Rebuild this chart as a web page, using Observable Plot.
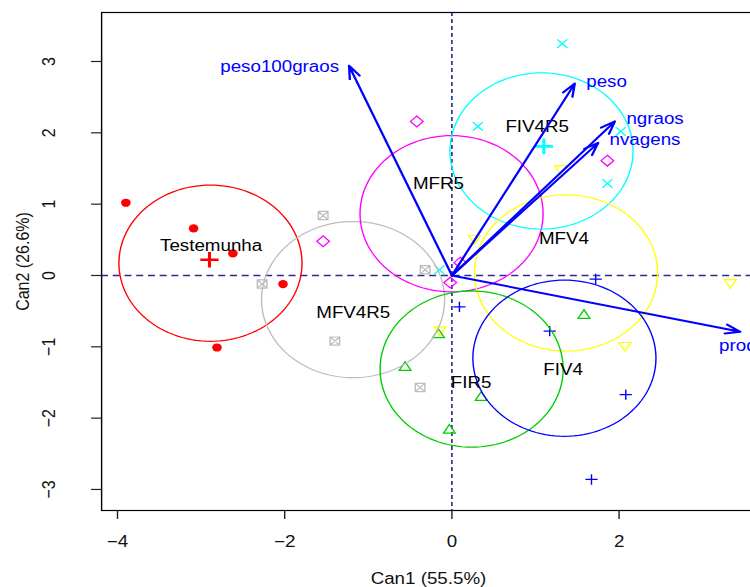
<!DOCTYPE html>
<html>
<head>
<meta charset="utf-8">
<script src="https://cdn.jsdelivr.net/npm/d3@7"></script>
<script src="https://cdn.jsdelivr.net/npm/@observablehq/plot@0.6"></script>
<style>
  html, body { margin: 0; padding: 0; overflow: hidden; background: #fff; }
  #wrap { width: 750px; height: 587px; overflow: hidden; position: relative; background: #fff; }
  #wrap svg { display: block; max-width: none; transform: scaleX(1.172); transform-origin: 0 0; }
</style>
</head>
<body>
<div id="wrap"></div>
<script>
// ---- data ----
const groups = ["Testemunha", "MFV4R5", "MFR5", "FIV4R5", "MFV4", "FIR5", "FIV4"];
const groupColors = ["#FF0000", "#BEBEBE", "#FF00FF", "#00FFFF", "#FFFF00", "#00CD00", "#0000FF"];

// canonical scores per group (Can1, Can2)
const scoreCan1 = [
  [-3.90, -3.09, -2.62, -2.02, -2.81],   // Testemunha
  [-1.54, -2.27, -1.40, -0.38, -0.32],   // MFV4R5
  [-0.42, -1.54, -0.02, 1.86, 0.10],     // MFR5
  [1.32, 0.31, 2.02, 1.86, -0.15],       // FIV4R5
  [1.30, 0.27, -0.14, 2.07, 3.33],       // MFV4
  [-0.56, -0.16, 0.35, -0.03, 1.58],     // FIR5
  [1.72, 0.09, 1.17, 2.08, 1.67]         // FIV4
];
const scoreCan2 = [
  [1.02, 0.66, 0.31, -0.12, -1.01],
  [0.84, -0.12, -0.92, -1.57, 0.08],
  [2.16, 0.48, -0.10, 1.61, 0.18],
  [3.25, 2.09, 2.02, 1.29, 0.08],
  [1.50, 0.52, -0.76, -0.98, -0.10],
  [-1.29, -0.83, -1.71, -2.17, -0.56],
  [-0.05, -0.44, -0.78, -1.67, -2.86]
];

// group label positions
const labelCan1 = [-2.88, -1.18, -0.16, 1.02, 1.34, 0.23, 1.33];
const labelCan2 = [0.42, -0.53, 1.29, 2.09, 0.51, -1.51, -1.33];

// centroid crosses shown in the reference
const crossGroups = ["Testemunha", "FIV4R5"];
const crossCan1 = [-2.90, 1.10];
const crossCan2 = [0.22, 1.81];

const circleRadius = 1.095;

// structure vectors
const varNames = ["peso100graos", "peso", "ngraos", "nvagens", "prod"];
const varCan1 = [-1.23, 1.47, 1.95, 1.75, 3.45];
const varCan2 = [2.94, 2.69, 2.16, 1.86, -0.79];
const varLabelCan1 = [-2.06, 1.85, 2.43, 2.31, 3.42];
const varLabelCan2 = [2.93, 2.72, 2.20, 1.90, -0.98];

const xTicks = [-4, -2, 0, 2];
const yTicks = [-3, -2, -1, 0, 1, 2, 3];
const xTitle = "Can1 (55.5%)";
const yTitle = "Can2 (26.6%)";

// ---- symbols (R pch look-alikes) ----
const sym = (fn) => ({ draw(c, size) { fn(c, Math.sqrt(size / Math.PI)); } });
const triUp = sym((c, r) => { c.moveTo(0, -r * 1.15); c.lineTo(r, r * 0.58); c.lineTo(-r, r * 0.58); c.closePath(); });
const triDown = sym((c, r) => { c.moveTo(0, r * 1.15); c.lineTo(r, -r * 0.58); c.lineTo(-r, -r * 0.58); c.closePath(); });
const plus = sym((c, r) => { c.moveTo(-r, 0); c.lineTo(r, 0); c.moveTo(0, -r); c.lineTo(0, r); });
const times = sym((c, r) => { c.moveTo(-r, -r); c.lineTo(r, r); c.moveTo(-r, r); c.lineTo(r, -r); });
const diamond = sym((c, r) => { c.moveTo(0, -r); c.lineTo(r, 0); c.lineTo(0, r); c.lineTo(-r, 0); c.closePath(); });
const boxX = sym((c, r) => { c.rect(-r, -r, 2 * r, 2 * r); c.moveTo(-r, -r); c.lineTo(r, r); c.moveTo(-r, r); c.lineTo(r, -r); });

const groupStyle = [
  { symbol: "circle", r: 4.1, fill: true },
  { symbol: boxX, r: 4.1 },
  { symbol: diamond, r: 5.4 },
  { symbol: times, r: 4.3 },
  { symbol: triDown, r: 5 },
  { symbol: triUp, r: 5 },
  { symbol: plus, r: 5.2 }
];

const circlePts = (cx, cy) => d3.range(0, 361, 3).map(a => ({
  x: cx + circleRadius * Math.cos(a * Math.PI / 180),
  y: cy + circleRadius * Math.sin(a * Math.PI / 180)
}));

const fmt = d => d < 0 ? "\u2212" + Math.abs(d) : String(d);
const refColor = "#2a2a8f";

const marks = [];
marks.push(Plot.ruleY([0], { stroke: refColor, strokeWidth: 1.3, strokeDasharray: "6,4" }));
marks.push(Plot.ruleX([0], { stroke: refColor, strokeWidth: 1.4, strokeDasharray: "4,3" }));

groups.forEach((g, i) => {
  const pts = scoreCan1[i].map((x, j) => ({ x, y: scoreCan2[i][j] }));
  const st = groupStyle[i];
  marks.push(Plot.dot(pts, {
    x: "x", y: "y", symbol: st.symbol, r: st.r,
    fill: st.fill ? groupColors[i] : "none",
    stroke: st.fill ? "none" : groupColors[i],
    strokeWidth: 1.2, clip: "frame"
  }));
});

groups.forEach((g, i) => {
  const cx = d3.mean(scoreCan1[i]), cy = d3.mean(scoreCan2[i]);
  marks.push(Plot.line(circlePts(cx, cy), { x: "x", y: "y", stroke: groupColors[i], strokeWidth: 1.2, clip: "frame" }));
});

crossGroups.forEach((g, k) => {
  const i = groups.indexOf(g);
  marks.push(Plot.dot([{ x: crossCan1[k], y: crossCan2[k] }], {
    x: "x", y: "y", symbol: plus, r: 7.8, stroke: groupColors[i], strokeWidth: 2.6, fill: "none"
  }));
});

marks.push(Plot.text(groups.map((g, i) => ({ g, x: labelCan1[i], y: labelCan2[i] })), {
  x: "x", y: "y", text: "g", fill: "black", fontSize: 16, lineAnchor: "middle"
}));

const vars = varNames.map((n, i) => ({ n, x: varCan1[i], y: varCan2[i], lx: varLabelCan1[i], ly: varLabelCan2[i] }));
marks.push(Plot.arrow(vars, {
  x1: d => 0, y1: d => 0, x2: "x", y2: "y",
  stroke: "#0000FF", strokeWidth: 2, headLength: 10, headAngle: 40
}));
marks.push(Plot.text(vars, {
  x: "lx", y: "ly", text: "n", fill: "#0000FF", fontSize: 16, lineAnchor: "middle", clip: "frame"
}));

// axes
marks.push(Plot.frame({ stroke: "black", strokeWidth: 1.2 }));
marks.push(Plot.axisX(xTicks, { tickSize: 9, tickFormat: () => "", label: null, stroke: "#222", strokeWidth: 1.2 }));
marks.push(Plot.axisY(yTicks, { tickSize: 8.5, tickFormat: () => "", label: null, stroke: "#222", strokeWidth: 1.2 }));
marks.push(Plot.text(xTicks, { x: d => d, text: fmt, frameAnchor: "bottom", dy: 31, fontSize: 16, lineAnchor: "middle", fill: "#111" }));
marks.push(Plot.text(yTicks, { y: d => d, text: fmt, frameAnchor: "left", dx: -45.2, rotate: -90, fontSize: 16, lineAnchor: "middle", textAnchor: "middle", fill: "#111" }));
marks.push(Plot.text([xTitle], { text: d => d, frameAnchor: "bottom", dy: 68, fontSize: 16, lineAnchor: "middle", fill: "#111" }));
marks.push(Plot.text([yTitle], { text: d => d, frameAnchor: "left", dx: -67.4, rotate: -90, fontSize: 16, lineAnchor: "middle", textAnchor: "middle", fill: "#111" }));

const chart = Plot.plot({
  width: 664, height: 587,
  marginLeft: 86.2, marginRight: 20, marginTop: 12, marginBottom: 77,
  x: { domain: [-4.19, 3.63] },
  y: { domain: [-3.295, 3.687] },
  style: { fontFamily: "'Liberation Sans', Arial, Helvetica, sans-serif", fontSize: "16px", background: "white", color: "black", overflow: "visible" },
  marks
});
document.getElementById("wrap").appendChild(chart);
</script>
</body>
</html>
